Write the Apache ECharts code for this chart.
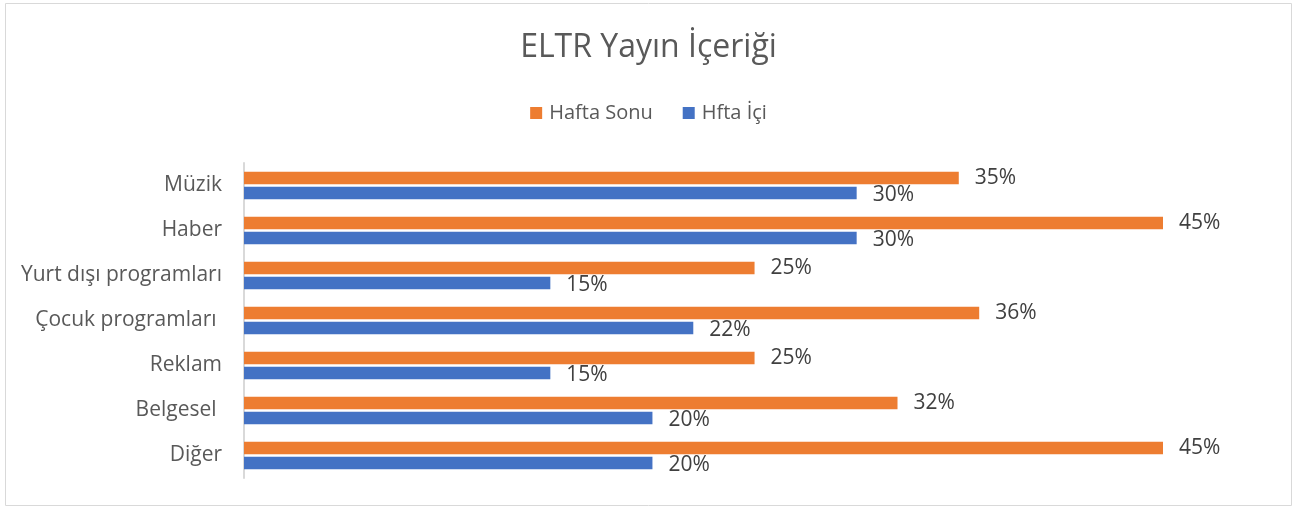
<!DOCTYPE html>
<html>
<head>
<meta charset="utf-8">
<script src="https://cdn.jsdelivr.net/npm/echarts@6/dist/echarts.min.js"></script>
<style>
  html, body { margin: 0; padding: 0; background: #fff; }
  #chart { width: 1297px; height: 509px; }
</style>
</head>
<body>
<div id="chart"></div>
<script>
// kategoriler (yukarıdan aşağıya)
const categories = ['Müzik', 'Haber', 'Yurt dışı programları', 'Çocuk programları ', 'Reklam', 'Belgesel ', 'Diğer']
const haftaSonu = [35, 45, 25, 36, 25, 32, 45]
const haftaIci = [30, 30, 15, 22, 15, 20, 20]

const font = '"Open Sans", "Noto Sans", sans-serif'
const chart = echarts.init(document.getElementById('chart'))

chart.setOption({
  animation: false,
  textStyle: { fontFamily: font },
  title: {
    text: 'ELTR Yayın İçeriği',
    left: 'center',
    top: 27,
    textStyle: { fontFamily: font, fontSize: 32, fontWeight: 'normal', color: '#595959' }
  },
  legend: {
    top: 98,
    left: 'center',
    itemWidth: 12,
    itemHeight: 12,
    itemGap: 30,
    icon: 'rect',
    textStyle: { fontFamily: font, fontSize: 20, color: '#595959', padding: [0, 0, 0, 2] },
    data: ['Hafta Sonu', 'Hfta İçi']
  },
  graphic: [{
    type: 'rect',
    shape: { x: 5.5, y: 3.5, width: 1286, height: 502 },
    style: { fill: 'none', stroke: '#d9d9d9', lineWidth: 1 },
    silent: true
  }],
  grid: { left: 244, right: 134, top: 163, height: 315 },
  xAxis: {
    type: 'value',
    min: 0,
    max: 45,
    show: false
  },
  yAxis: {
    type: 'category',
    inverse: true,
    data: categories,
    axisLine: { lineStyle: { color: '#d9d9d9', width: 2 } },
    axisTick: { show: false },
    axisLabel: { fontFamily: font, fontSize: 21, color: '#595959', margin: 22 }
  },
  series: [{
    name: 'Hafta Sonu',
    type: 'bar',
    data: haftaSonu,
    barWidth: 12.5,
    barGap: '20%',
    itemStyle: { color: '#ed7d31' },
    label: { show: true, position: 'right', distance: 16, formatter: '{c}%', fontFamily: font, fontSize: 21, color: '#404040' }
  }, {
    name: 'Hfta İçi',
    type: 'bar',
    data: haftaIci,
    barWidth: 12.5,
    barGap: '20%',
    itemStyle: { color: '#4472c4' },
    label: { show: true, position: 'right', distance: 16, formatter: '{c}%', fontFamily: font, fontSize: 21, color: '#404040', offset: [0, 2] }
  }]
})
</script>
</body>
</html>
